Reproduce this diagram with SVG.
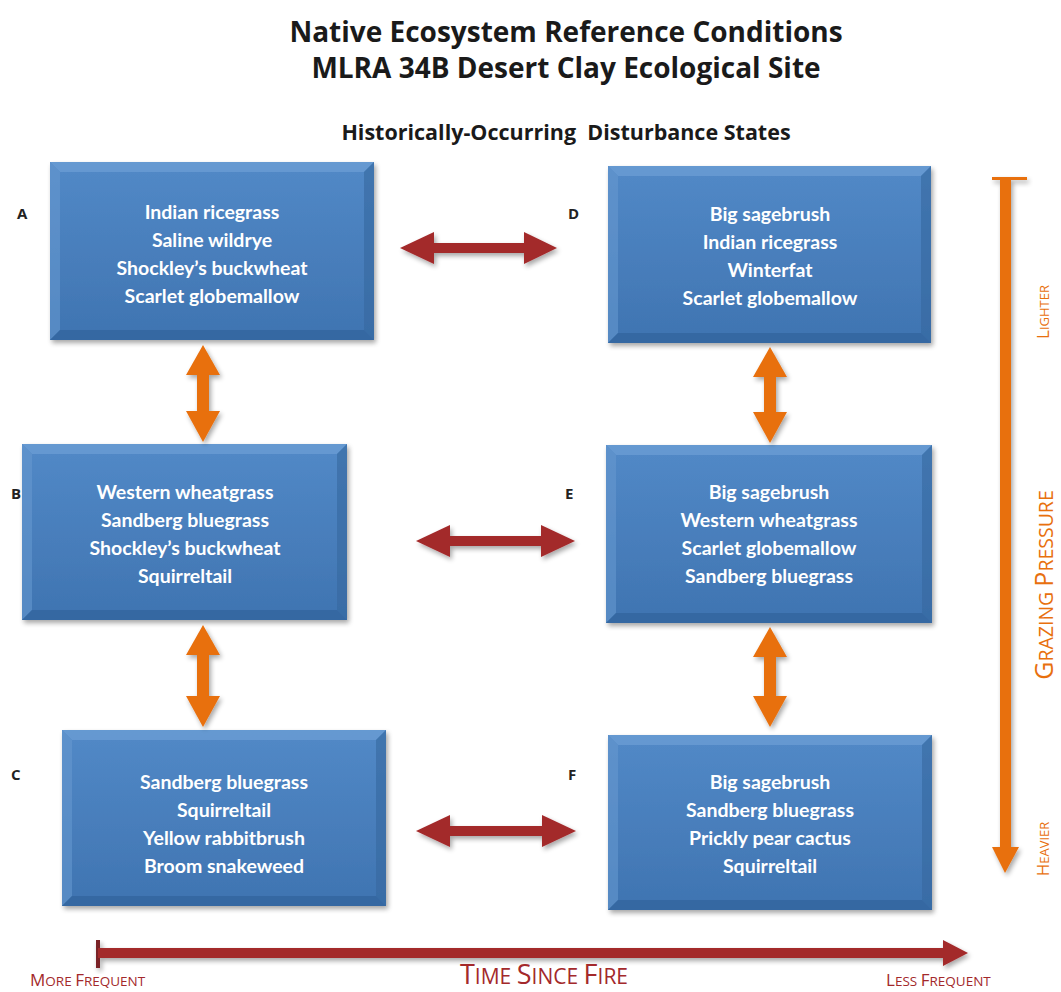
<svg xmlns="http://www.w3.org/2000/svg" width="1061" height="992" viewBox="0 0 1061 992">
<style>
.title{font-family:"Open Sans","Liberation Sans",sans-serif;font-weight:bold;fill:#1a1a1a;text-anchor:middle}
.lbl{font-family:"Open Sans","Liberation Sans",sans-serif;font-weight:bold;font-size:15px;fill:#222}
.bt{font-family:Lato,"Liberation Sans",sans-serif;font-weight:bold;font-size:19.5px;fill:#fff;text-anchor:middle}
.box{fill:url(#bg)}
.red{fill:#a3292b}
.org{fill:#e8700e}
.ax{font-family:"Open Sans","Liberation Sans",sans-serif}
</style>
<defs>
<linearGradient id="bg" x1="0" y1="0" x2="0" y2="1">
<stop offset="0" stop-color="#5289c7"/>
<stop offset="1" stop-color="#3f74b1"/>
</linearGradient>
<filter id="sh" x="-10%" y="-10%" width="125%" height="130%">
<feGaussianBlur in="SourceAlpha" stdDeviation="2.5"/>
<feOffset dx="2" dy="3"/>
<feComponentTransfer><feFuncA type="linear" slope="0.35"/></feComponentTransfer>
<feMerge><feMergeNode/><feMergeNode in="SourceGraphic"/></feMerge>
</filter>
</defs>
<rect width="1061" height="992" fill="#fff"/>
<text class="title" x="566" y="42" font-size="28">Native Ecosystem Reference Conditions</text>
<text class="title" x="566" y="78" font-size="28">MLRA 34B Desert Clay Ecological Site</text>
<text class="title" x="566" y="140" font-size="21.5" xml:space="preserve">Historically-Occurring  Disturbance States</text>

<g id="nodeA">
<g filter="url(#sh)"><rect class="box" x="50" y="162" width="324" height="178"/>
<polygon points="50,162 374,162 364,172 60,172" fill="#6d9fd6" opacity="0.7"/>
<polygon points="50,162 60,172 60,330 50,340" fill="#6597cf" opacity="0.6"/>
<polygon points="50,340 60,330 364,330 374,340" fill="#2f5f97" opacity="0.6"/>
<polygon points="374,162 374,340 364,330 364,172" fill="#35679f" opacity="0.6"/></g>
<text class="lbl" x="17" y="219">A</text>
<text class="bt" x="212" y="219">Indian ricegrass</text>
<text class="bt" x="212" y="247">Saline wildrye</text>
<text class="bt" x="212" y="275">Shockley’s buckwheat</text>
<text class="bt" x="212" y="303">Scarlet globemallow</text>
</g>

<g id="nodeD">
<g filter="url(#sh)"><rect class="box" x="608" y="166" width="323" height="177"/>
<polygon points="608,166 931,166 921,176 618,176" fill="#6d9fd6" opacity="0.7"/>
<polygon points="608,166 618,176 618,333 608,343" fill="#6597cf" opacity="0.6"/>
<polygon points="608,343 618,333 921,333 931,343" fill="#2f5f97" opacity="0.6"/>
<polygon points="931,166 931,343 921,333 921,176" fill="#35679f" opacity="0.6"/></g>
<text class="lbl" x="568" y="219">D</text>
<text class="bt" x="770" y="221">Big sagebrush</text>
<text class="bt" x="770" y="249">Indian ricegrass</text>
<text class="bt" x="770" y="277">Winterfat</text>
<text class="bt" x="770" y="305">Scarlet globemallow</text>
</g>

<g id="nodeB">
<g filter="url(#sh)"><rect class="box" x="22" y="444" width="325" height="176"/>
<polygon points="22,444 347,444 337,454 32,454" fill="#6d9fd6" opacity="0.7"/>
<polygon points="22,444 32,454 32,610 22,620" fill="#6597cf" opacity="0.6"/>
<polygon points="22,620 32,610 337,610 347,620" fill="#2f5f97" opacity="0.6"/>
<polygon points="347,444 347,620 337,610 337,454" fill="#35679f" opacity="0.6"/></g>
<text class="lbl" x="11" y="499">B</text>
<text class="bt" x="185" y="499">Western wheatgrass</text>
<text class="bt" x="185" y="527">Sandberg bluegrass</text>
<text class="bt" x="185" y="555">Shockley’s buckwheat</text>
<text class="bt" x="185" y="583">Squirreltail</text>
</g>

<g id="nodeE">
<g filter="url(#sh)"><rect class="box" x="606" y="445" width="326" height="178"/>
<polygon points="606,445 932,445 922,455 616,455" fill="#6d9fd6" opacity="0.7"/>
<polygon points="606,445 616,455 616,613 606,623" fill="#6597cf" opacity="0.6"/>
<polygon points="606,623 616,613 922,613 932,623" fill="#2f5f97" opacity="0.6"/>
<polygon points="932,445 932,623 922,613 922,455" fill="#35679f" opacity="0.6"/></g>
<text class="lbl" x="565" y="499">E</text>
<text class="bt" x="769" y="499">Big sagebrush</text>
<text class="bt" x="769" y="527">Western wheatgrass</text>
<text class="bt" x="769" y="555">Scarlet globemallow</text>
<text class="bt" x="769" y="583">Sandberg bluegrass</text>
</g>

<g id="nodeC">
<g filter="url(#sh)"><rect class="box" x="62" y="730" width="324" height="176"/>
<polygon points="62,730 386,730 376,740 72,740" fill="#6d9fd6" opacity="0.7"/>
<polygon points="62,730 72,740 72,896 62,906" fill="#6597cf" opacity="0.6"/>
<polygon points="62,906 72,896 376,896 386,906" fill="#2f5f97" opacity="0.6"/>
<polygon points="386,730 386,906 376,896 376,740" fill="#35679f" opacity="0.6"/></g>
<text class="lbl" x="11" y="780">C</text>
<text class="bt" x="224" y="789">Sandberg bluegrass</text>
<text class="bt" x="224" y="817">Squirreltail</text>
<text class="bt" x="224" y="845">Yellow rabbitbrush</text>
<text class="bt" x="224" y="873">Broom snakeweed</text>
</g>

<g id="nodeF">
<g filter="url(#sh)"><rect class="box" x="608" y="735" width="324" height="175"/>
<polygon points="608,735 932,735 922,745 618,745" fill="#6d9fd6" opacity="0.7"/>
<polygon points="608,735 618,745 618,900 608,910" fill="#6597cf" opacity="0.6"/>
<polygon points="608,910 618,900 922,900 932,910" fill="#2f5f97" opacity="0.6"/>
<polygon points="932,735 932,910 922,900 922,745" fill="#35679f" opacity="0.6"/></g>
<text class="lbl" x="568" y="780">F</text>
<text class="bt" x="770" y="789">Big sagebrush</text>
<text class="bt" x="770" y="817">Sandberg bluegrass</text>
<text class="bt" x="770" y="845">Prickly pear cactus</text>
<text class="bt" x="770" y="873">Squirreltail</text>
</g>

<g id="connectors" filter="url(#sh)">
<polygon class="red" points="400,248 434,232 434,243 524,243 524,232 557,248 524,264 524,253 434,253 434,264"/>
<polygon class="red" points="416,541 450,525 450,536 541,536 541,525 575,541 541,557 541,546 450,546 450,557"/>
<polygon class="red" points="416,831 450,815 450,826 542,826 542,815 576,831 542,847 542,836 450,836 450,847"/>
<polygon class="org" points="203,345 220,375 209,375 209,411 220,411 203,442 186,411 197,411 197,375 186,375"/>
<polygon class="org" points="203,625 220,655 209,655 209,696 220,696 203,727 186,696 197,696 197,655 186,655"/>
<polygon class="org" points="770,347 787,377 776,377 776,412 787,412 770,443 753,412 764,412 764,377 753,377"/>
<polygon class="org" points="770,627 787,657 776,657 776,696 787,696 770,727 753,696 764,696 764,657 753,657"/>
</g>

<g id="grazing-axis">
<g filter="url(#sh)">
<rect class="org" x="992" y="177" width="35" height="3"/>
<polygon class="org" points="1000,178 1011,178 1011,847 1019,847 1005,873 992,847 1000,847"/>
</g>
<text class="ax" transform="translate(1049,312) rotate(-90)" text-anchor="middle" fill="#e8700e"><tspan font-size="17">L</tspan><tspan font-size="13">IGHTER</tspan></text>
<text class="ax" transform="translate(1053,585) rotate(-90)" text-anchor="middle" fill="#e8700e"><tspan font-size="25">G</tspan><tspan font-size="19.5">RAZING </tspan><tspan font-size="25">P</tspan><tspan font-size="19.5">RESSURE</tspan></text>
<text class="ax" transform="translate(1049,849) rotate(-90)" text-anchor="middle" fill="#e8700e"><tspan font-size="17">H</tspan><tspan font-size="13">EAVIER</tspan></text>
</g>

<g id="fire-axis">
<g filter="url(#sh)">
<rect x="96" y="940" width="4" height="28" fill="#7a2125"/>
<polygon class="red" points="98,948 943,948 943,940 968,953 943,966 943,958 98,958"/>
</g>
<text class="ax" x="30" y="986" fill="#a3292b"><tspan font-size="17">M</tspan><tspan font-size="13.5">ORE </tspan><tspan font-size="17">F</tspan><tspan font-size="13.5">REQUENT</tspan></text>
<text class="ax" x="544" y="984" text-anchor="middle" fill="#a3292b"><tspan font-size="27">T</tspan><tspan font-size="21">IME </tspan><tspan font-size="27">S</tspan><tspan font-size="21">INCE </tspan><tspan font-size="27">F</tspan><tspan font-size="21">IRE</tspan></text>
<text class="ax" x="886" y="986" fill="#a3292b"><tspan font-size="17">L</tspan><tspan font-size="13.5">ESS </tspan><tspan font-size="17">F</tspan><tspan font-size="13.5">REQUENT</tspan></text>
</g>
</svg>
